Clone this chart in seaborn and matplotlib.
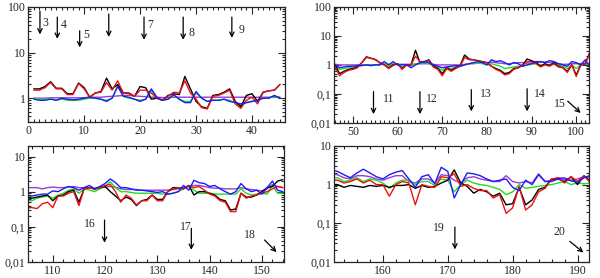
import numpy as np
import pandas as pd
import matplotlib
matplotlib.use('Agg')
import matplotlib.pyplot as plt
import seaborn as sns
from matplotlib.ticker import LogLocator, MultipleLocator, FuncFormatter, NullFormatter

# ── Data ──────────────────────────────────────────────────────────────────────
# panel 1: x = 1..45
x1 = list(range(1, 46))
black1 = [1.6, 1.6, 1.8, 2.3, 1.65, 1.65, 1.25, 1.25, 2.15, 1.7,
          1.05, 1.3, 1.4, 2.75, 1.6, 2.0, 1.3, 1.3, 1.1, 1.8,
          1.7, 0.95, 1.0, 0.9, 1.15, 1.25, 1.2, 3.0, 1.6, 0.85,
          0.65, 0.6, 1.15, 1.2, 1.35, 1.6, 0.85, 0.65, 1.15, 1.25,
          0.85, 1.35, 1.45, 1.5, 2.0]
red1 = [1.5, 1.5, 1.7, 2.2, 1.6, 1.6, 1.2, 1.2, 2.1, 1.6,
        1.05, 1.3, 1.35, 2.2, 1.5, 2.4, 1.3, 1.25, 1.1, 1.5,
        1.5, 1.3, 1.0, 0.9, 1.1, 1.35, 1.3, 2.4, 1.3, 0.95,
        0.62, 0.58, 1.1, 1.15, 1.3, 1.5, 0.75, 0.6, 0.9, 1.05,
        0.75, 1.35, 1.45, 1.5, 2.0]
green1 = [1.0, 0.95, 0.95, 1.0, 0.9, 0.95, 0.9, 0.9, 0.9, 0.95,
          1.0, 1.0, 0.95, 0.9, 1.0, 1.9, 1.1, 1.0, 0.95, 0.9,
          0.95, 1.5, 1.0, 0.9, 0.95, 1.15, 0.95, 0.85, 0.85, 1.3,
          1.0, 0.85, 0.9, 0.9, 0.95, 0.9, 0.8, 0.7, 0.8, 0.85,
          0.9, 1.0, 1.0, 1.1, 1.05]
blue1 = [0.95, 0.9, 0.9, 0.95, 0.9, 1.0, 0.95, 0.92, 0.95, 1.0,
         1.05, 1.0, 0.95, 0.85, 1.0, 1.8, 1.1, 1.05, 0.95, 0.85,
         0.95, 1.6, 1.05, 0.9, 0.95, 1.2, 0.95, 0.8, 0.8, 1.4,
         1.0, 0.85, 0.9, 0.9, 0.95, 0.85, 0.8, 0.75, 0.8, 0.85,
         0.9, 1.0, 1.0, 1.15, 1.0]
purple1 = [1.0, 1.0, 1.0, 1.02, 1.02, 1.02, 1.02, 1.02, 1.02, 1.03,
           1.05, 1.05, 1.05, 1.08, 1.1, 1.12, 1.15, 1.15, 1.12, 1.1,
           1.08, 1.05, 1.05, 1.03, 1.03, 1.05, 1.05, 1.05, 1.05, 1.05,
           1.05, 1.05, 1.05, 1.05, 1.05, 1.05, 1.05, 1.05, 1.05, 1.05,
           1.05, 1.05, 1.05, 1.05, 1.05]

# panel 2: x = 46..103
x2 = list(range(46, 104))
black2 = [1.0, 0.5, 0.6, 0.7, 0.75, 0.85, 1.2, 1.9, 1.7, 1.55,
          1.2, 1.0, 0.8, 1.0, 1.1, 0.75, 1.0, 1.0, 3.2, 1.2,
          1.3, 1.5, 0.9, 0.75, 0.5, 0.8, 0.65, 0.8, 0.95, 2.2,
          1.6, 1.5, 1.4, 1.3, 1.2, 0.9, 0.75, 0.65, 0.5, 0.55,
          0.75, 0.8, 1.0, 1.6, 1.4, 1.2, 0.9, 1.1, 0.95, 1.2,
          0.9, 0.8, 0.6, 1.0, 0.45, 1.0, 1.1, 2.6]
red2 = [0.85, 0.42, 0.55, 0.65, 0.7, 0.8, 1.2, 1.8, 1.7, 1.5,
        1.2, 1.0, 0.75, 0.95, 1.1, 0.7, 1.0, 1.0, 2.0, 1.3,
        1.3, 1.4, 0.85, 0.7, 0.42, 0.75, 0.6, 0.75, 0.9, 1.8,
        1.5, 1.5, 1.35, 1.25, 1.2, 0.9, 0.7, 0.6, 0.45, 0.5,
        0.7, 0.8, 0.95, 1.3, 1.3, 1.1, 0.85, 1.0, 0.9, 1.1,
        0.85, 0.8, 0.55, 1.0, 0.4, 1.0, 1.1, 2.4]
green2 = [0.9, 0.7, 0.75, 0.8, 0.85, 0.9, 0.95, 1.0, 0.95, 1.0,
          1.0, 1.1, 0.95, 1.1, 1.0, 0.85, 1.0, 0.95, 1.1, 1.1,
          1.2, 1.1, 0.95, 0.8, 0.65, 0.8, 0.75, 0.85, 0.9, 1.0,
          1.1, 1.15, 1.15, 1.1, 1.0, 1.1, 1.0, 0.9, 0.75, 0.8,
          0.85, 0.9, 0.9, 1.0, 1.05, 1.1, 1.0, 1.05, 1.0, 1.05,
          0.95, 0.9, 0.75, 1.0, 0.75, 1.0, 1.05, 1.0]
blue2 = [1.0, 0.8, 0.85, 0.9, 0.9, 0.95, 0.95, 1.0, 0.95, 1.0,
         1.0, 1.3, 1.0, 1.3, 1.0, 1.0, 1.0, 0.8, 1.0, 1.2,
         1.3, 1.2, 1.0, 0.9, 0.8, 0.85, 0.9, 0.95, 0.9, 1.0,
         1.1, 1.2, 1.3, 1.2, 1.0, 1.5, 1.3, 1.4, 1.2, 1.0,
         1.2, 1.1, 0.9, 1.0, 1.1, 1.3, 1.3, 1.2, 1.4, 1.3,
         1.1, 1.0, 0.9, 1.3, 1.2, 1.0, 1.5, 0.9]
purple2 = [1.05, 1.0, 1.0, 1.0, 1.0, 1.0, 1.0, 1.0, 1.0, 1.0,
           1.05, 1.05, 1.05, 1.05, 1.05, 1.05, 1.05, 1.05, 1.05, 1.1,
           1.1, 1.1, 1.05, 1.0, 1.0, 1.0, 1.0, 1.0, 1.0, 1.05,
           1.1, 1.1, 1.15, 1.2, 1.2, 1.25, 1.2, 1.15, 1.1, 1.1,
           1.15, 1.2, 1.2, 1.15, 1.15, 1.2, 1.25, 1.25, 1.2, 1.15,
           1.1, 1.05, 1.05, 1.1, 1.1, 1.1, 1.15, 1.1]

# panel 3: x = 105..154
x3 = list(range(105, 155))
black3 = [0.65, 0.65, 0.7, 0.75, 0.8, 0.55, 0.75, 0.8, 1.0, 1.1,
          0.5, 1.2, 1.3, 1.2, 1.3, 1.4, 1.0, 0.75, 0.55, 0.7,
          0.6, 0.4, 0.55, 0.6, 0.8, 0.6, 0.6, 1.0, 1.3, 1.3,
          1.2, 1.5, 0.8, 1.0, 1.0, 0.9, 0.8, 0.6, 0.55, 0.3,
          0.32, 0.9, 0.7, 0.7, 0.8, 1.0, 1.3, 1.4, 2.0, 2.2]
red3 = [0.35, 0.35, 0.33, 0.45, 0.5, 0.35, 0.75, 0.75, 0.9, 1.0,
        0.4, 1.2, 1.3, 1.15, 1.3, 1.5, 1.6, 1.0, 0.5, 0.8,
        0.65, 0.42, 0.55, 0.55, 0.8, 0.55, 0.55, 1.0, 1.2, 1.3,
        1.2, 1.5, 1.3, 1.4, 1.1, 0.85, 0.75, 0.55, 0.5, 0.27,
        0.27, 0.9, 0.65, 0.75, 0.8, 0.9, 1.0, 1.2, 1.4, 1.3]
green3 = [0.55, 0.55, 0.65, 0.7, 0.75, 0.65, 0.8, 0.9, 1.1, 1.2,
          0.9, 1.2, 1.1, 1.0, 1.2, 1.4, 1.9, 1.3, 1.0, 1.0,
          0.95, 0.9, 0.9, 0.9, 0.9, 0.9, 0.85, 0.85, 0.9, 1.0,
          1.2, 1.5, 1.1, 0.9, 0.9, 0.9, 0.85, 0.85, 0.85, 0.85,
          0.85, 1.2, 0.9, 0.8, 0.85, 0.9, 0.85, 1.5, 0.9, 0.9]
blue3 = [0.75, 0.75, 0.8, 0.85, 0.85, 1.05, 1.0, 1.2, 1.4, 1.3,
         1.1, 1.3, 1.5, 1.2, 1.4, 1.7, 2.3, 1.8, 1.3, 1.3,
         1.2, 1.1, 1.1, 1.05, 1.0, 0.95, 1.0, 0.85, 0.9, 1.0,
         1.5, 1.1, 2.1, 1.8, 1.7, 1.4, 1.5, 1.2, 1.0, 0.85,
         1.0, 1.7, 1.2, 1.0, 1.1, 0.85, 1.3, 2.0, 1.1, 1.0]
purple3 = [1.3, 1.3, 1.3, 1.2, 1.3, 1.35, 1.3, 1.3, 1.35, 1.4,
           1.3, 1.3, 1.3, 1.25, 1.3, 1.35, 1.4, 1.35, 1.2, 1.15,
           1.15, 1.15, 1.1, 1.1, 1.1, 1.1, 1.1, 1.1, 1.15, 1.2,
           1.3, 1.4, 1.5, 1.5, 1.4, 1.3, 1.25, 1.25, 1.2, 1.2,
           1.2, 1.3, 1.2, 1.15, 1.1, 1.05, 1.2, 1.6, 1.4, 1.3]

# panel 4: x = 152..192
x4 = list(range(152, 193))
black4 = [1.0, 1.0, 0.85, 0.95, 0.9, 0.85, 0.95, 0.9, 0.95, 0.85,
          0.95, 0.95, 1.0, 0.8, 0.95, 0.85, 0.9, 1.1, 1.3, 2.4,
          1.1, 0.9, 0.6, 0.75, 0.65, 0.5, 0.6, 0.3, 0.32, 0.85,
          0.3, 0.4, 0.75, 0.85, 1.4, 1.4, 1.2, 1.6, 1.0, 1.7, 1.2]
red4 = [1.3, 1.3, 1.1, 1.2, 1.4, 1.1, 1.3, 1.0, 1.0, 0.5,
        1.0, 1.2, 1.1, 0.3, 1.0, 0.9, 0.85, 1.6, 1.5, 1.9,
        0.9, 1.0, 0.8, 0.7, 0.7, 0.45, 0.55, 0.18, 0.25, 0.9,
        0.22, 0.3, 0.65, 0.8, 1.4, 1.5, 1.1, 1.6, 1.2, 1.7, 1.1]
green4 = [1.5, 1.5, 1.2, 1.3, 1.5, 1.2, 1.4, 1.3, 1.1, 0.8,
          1.1, 1.3, 1.3, 1.0, 1.2, 1.2, 0.95, 1.4, 1.3, 0.65,
          1.0, 1.3, 1.1, 1.0, 0.95, 0.85, 0.75, 0.55, 0.65, 1.0,
          0.8, 0.85, 0.9, 0.95, 1.0, 1.1, 1.2, 1.0, 1.1, 1.05, 1.1]
blue4 = [2.4, 2.2, 1.8, 1.5, 2.0, 2.5, 2.0, 1.6, 1.4, 1.8,
         2.1, 2.3, 1.4, 0.85, 1.6, 1.8, 1.05, 2.8, 2.2, 0.45,
         1.0, 2.0, 1.9, 1.7, 1.4, 1.2, 1.3, 1.4, 0.85, 0.7,
         1.3, 1.0, 1.8, 1.2, 1.2, 1.4, 1.4, 1.25, 1.15, 1.5, 1.75]
purple4 = [1.9, 1.8, 1.5, 1.4, 1.7, 1.7, 1.6, 1.4, 1.3, 1.5,
           1.7, 1.7, 1.2, 1.1, 1.4, 1.4, 1.1, 1.8, 1.7, 1.3,
           1.1, 1.5, 1.6, 1.4, 1.3, 1.2, 1.2, 1.7, 1.2, 1.1,
           1.2, 1.1, 1.9, 1.2, 1.3, 1.5, 1.5, 1.3, 1.4, 1.6, 1.5]

# arrow labels: (label, tail(x, y), head(x, y), text(x, y))
arrows1 = [('3', (2.1, 80), (2.1, 25), (2.6, 45)),
           ('4', (5.2, 60), (5.2, 20), (5.8, 40)),
           ('5', (9.2, 30), (9.2, 13), (9.9, 24)),
           ('', (14.4, 70), (14.4, 22), None),
           ('7', (20.7, 60), (20.7, 19), (21.3, 40)),
           ('8', (27.7, 60), (27.7, 19), (28.6, 27)),
           ('9', (36.4, 60), (36.4, 21), (37.6, 32))]
arrows2 = [('11', (54.6, 0.12), (54.6, 0.02), (56.8, 0.065)),
           ('12', (65.0, 0.12), (65.0, 0.02), (66.3, 0.065)),
           ('13', (76.5, 0.14), (76.5, 0.025), (78.4, 0.1)),
           ('14', (89.0, 0.15), (89.0, 0.025), (90.5, 0.1)),
           ('15', (98.1, 0.056), (101.0, 0.022), (95.0, 0.045))]
arrows3 = [('16', (119.9, 0.155), (119.9, 0.035), (116.0, 0.12)),
           ('17', (136.5, 0.09), (136.5, 0.022), (134.3, 0.1)),
           ('18', (150.5, 0.042), (152.8, 0.019), (146.5, 0.058))]
arrows4 = [('19', (171.1, 0.08), (171.1, 0.021), (167.7, 0.075)),
           ('20', (188.8, 0.034), (190.9, 0.0175), (186.3, 0.058))]

SERIES = ['purple', 'green', 'black', 'red', 'blue']
COLORS = {'purple': '#9a3cd0', 'green': '#22dd22', 'black': '#000000',
          'red': '#ee1111', 'blue': '#1a1aff'}


def panel_frame(x, values):
    frames = []
    for name, vals in zip(SERIES, values):
        frames.append(pd.DataFrame({'x': x, 'v': vals, 'series': name}))
    return pd.concat(frames, ignore_index=True)


def fmt_log(v, pos):
    if v >= 1:
        return f'{v:.0f}'
    return f'{v:g}'.replace('.', ',')


sns.set_style('ticks')
plt.rcParams['font.family'] = ['Liberation Serif', 'DejaVu Serif']

fig = plt.figure(figsize=(6.0, 2.78), dpi=100)

panels = [
    ([0.047, 0.561, 0.428, 0.414], x1, [purple1, green1, black1, red1, blue1],
     (0, 45.9), (0.3, 100), 1, arrows1),
    ([0.557, 0.558, 0.425, 0.417], x2, [purple2, green2, black2, red2, blue2],
     (45.8, 102.9), (0.01, 100), 1, arrows2),
    ([0.047, 0.058, 0.427, 0.417], x3, [purple3, green3, black3, red3, blue3],
     (105.3, 154.3), (0.01, 20), 2, arrows3),
    ([0.557, 0.058, 0.425, 0.417], x4, [purple4, green4, black4, red4, blue4],
     (152.5, 191.8), (0.01, 10), 2, arrows4),
]

for rect, x, vals, xlim, ylim, minor, arrows in panels:
    ax = fig.add_axes(rect)
    df = panel_frame(x, vals)
    sns.lineplot(data=df, x='x', y='v', hue='series', hue_order=SERIES,
                 palette=COLORS, estimator=None, sort=False, legend=False,
                 linewidth=1.0, ax=ax)
    ax.set_yscale('log')
    ax.set_xlim(*xlim)
    ax.set_ylim(*ylim)
    ax.set_xlabel('')
    ax.set_ylabel('')
    ax.xaxis.set_major_locator(MultipleLocator(10))
    ax.xaxis.set_minor_locator(MultipleLocator(minor))
    ax.yaxis.set_major_locator(LogLocator(base=10))
    ax.yaxis.set_minor_locator(LogLocator(base=10, subs=np.arange(2, 10)))
    ax.yaxis.set_major_formatter(FuncFormatter(fmt_log))
    ax.yaxis.set_minor_formatter(NullFormatter())
    ax.tick_params(which='both', direction='in', top=True, right=True,
                   labelsize=8.5, width=0.8, pad=2)
    ax.tick_params(which='major', length=5)
    ax.tick_params(which='minor', length=2.5)
    for s in ax.spines.values():
        s.set_linewidth(0.9)

    for label, tail, head, txt in arrows:
        ax.annotate('', xy=head, xytext=tail,
                    arrowprops=dict(arrowstyle='->', lw=0.9, color='black',
                                    mutation_scale=8, shrinkA=0, shrinkB=0))
        if label:
            ax.text(txt[0], txt[1], label, fontsize=8.5, ha='left', va='center')

fig.savefig('out.png', dpi=100)
